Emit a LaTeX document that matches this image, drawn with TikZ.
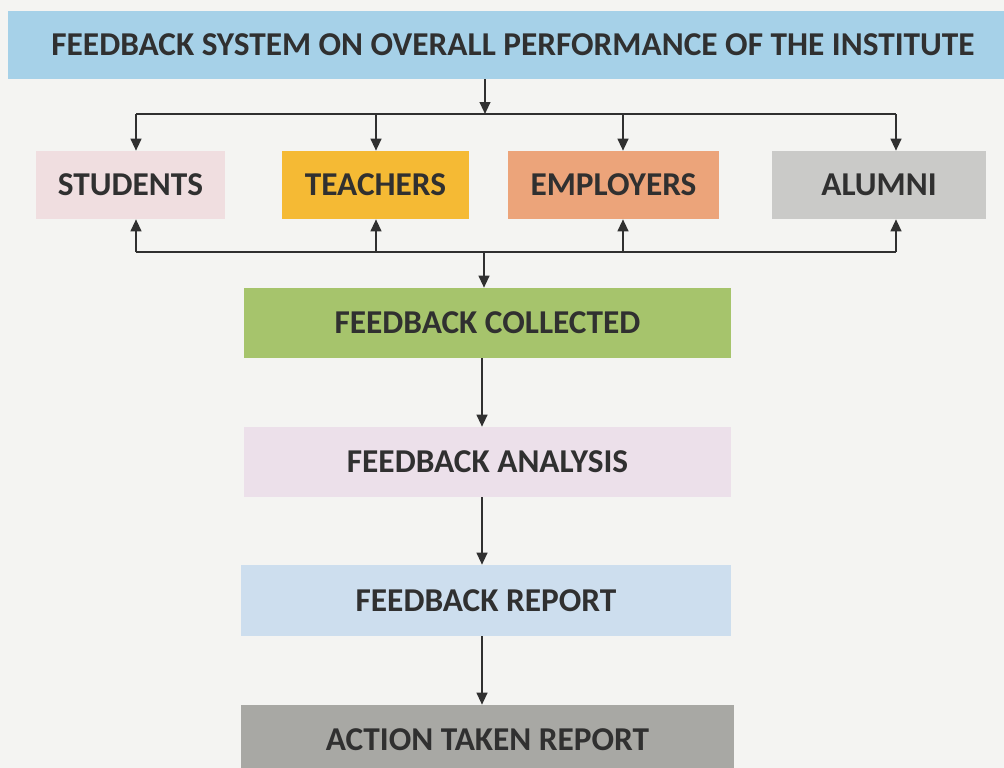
\documentclass[tikz,border=0pt]{standalone}
\usepackage{fontspec}
\setmainfont{Carlito}
\usetikzlibrary{arrows.meta}
\definecolor{paper}{RGB}{244,244,242}
\definecolor{ink}{RGB}{48,48,48}
\definecolor{titlebl}{RGB}{166,209,232}
\definecolor{studpk}{RGB}{240,222,224}
\definecolor{teachyl}{RGB}{245,186,52}
\definecolor{emplor}{RGB}{236,164,122}
\definecolor{alumgy}{RGB}{202,202,200}
\definecolor{collgr}{RGB}{166,196,108}
\definecolor{analpk}{RGB}{236,224,234}
\definecolor{repbl}{RGB}{205,222,238}
\definecolor{actgy}{RGB}{168,168,164}
\tikzset{
  box/.style={rectangle, inner sep=0pt, text=ink, font=\fontsize{25}{29}\selectfont\bfseries},
  conn/.style={draw=ink, line width=1.5pt},
  arr/.style={conn, -{Triangle[length=9pt,width=8pt]}},
}
\begin{document}
\begin{tikzpicture}[x=0.75pt,y=-0.75pt]
\useasboundingbox (0,0) rectangle (1004,768);
\clip (0,0) rectangle (1004,768);
\fill[paper] (0,0) rectangle (1004,768);
% title
\node[box, fill=titlebl, minimum width={1010*0.75pt}, minimum height={68*0.75pt}] (title) at (513,45) {FEEDBACK SYSTEM ON OVERALL PERFORMANCE OF THE INSTITUTE};
% stakeholders
\node[box, fill=studpk, minimum width={189*0.75pt}, minimum height={68*0.75pt}] (stud) at (130.5,185) {STUDENTS};
\node[box, fill=teachyl, minimum width={187*0.75pt}, minimum height={68*0.75pt}] (teach) at (375.5,185) {TEACHERS};
\node[box, fill=emplor, minimum width={211*0.75pt}, minimum height={68*0.75pt}] (empl) at (613.5,185) {EMPLOYERS};
\node[box, fill=alumgy, minimum width={214*0.75pt}, minimum height={68*0.75pt}] (alum) at (879,185) {ALUMNI};
% process
\node[box, fill=collgr, minimum width={487*0.75pt}, minimum height={70*0.75pt}] (coll) at (487.5,323) {FEEDBACK COLLECTED};
\node[box, fill=analpk, minimum width={487*0.75pt}, minimum height={70*0.75pt}] (anal) at (487.5,462) {FEEDBACK ANALYSIS};
\node[box, fill=repbl, minimum width={490*0.75pt}, minimum height={71*0.75pt}] (rep) at (486,600.5) {FEEDBACK REPORT};
\node[box, fill=actgy, minimum width={493*0.75pt}, minimum height={70*0.75pt}] (act) at (487.5,740) {ACTION TAKEN REPORT};
% top distribution
\coordinate (tm) at (485,114);
\coordinate (t1) at (136,114);
\coordinate (t2) at (376,114);
\coordinate (t3) at (623,114);
\coordinate (t4) at (896,114);
\draw[arr] (title.south -| tm) -- (tm);
\draw[conn] (t1) -- (t4);
\draw[arr] (t1) -- (t1 |- stud.north);
\draw[arr] (t2) -- (t2 |- teach.north);
\draw[arr] (t3) -- (t3 |- empl.north);
\draw[arr] (t4) -- (t4 |- alum.north);
% bottom collection
\coordinate (bm) at (484,252);
\coordinate (b1) at (136,252);
\coordinate (b2) at (376,252);
\coordinate (b3) at (623,252);
\coordinate (b4) at (896,252);
\draw[conn] (b1) -- (b4);
\draw[arr] (b1) -- (b1 |- stud.south);
\draw[arr] (b2) -- (b2 |- teach.south);
\draw[arr] (b3) -- (b3 |- empl.south);
\draw[arr] (b4) -- (b4 |- alum.south);
\draw[arr] (bm) -- (bm |- coll.north);
% chain
\coordinate (c) at (482,0);
\draw[arr] (c |- coll.south) -- (c |- anal.north);
\draw[arr] (c |- anal.south) -- (c |- rep.north);
\draw[arr] (c |- rep.south) -- (c |- act.north);
\end{tikzpicture}
\end{document}
